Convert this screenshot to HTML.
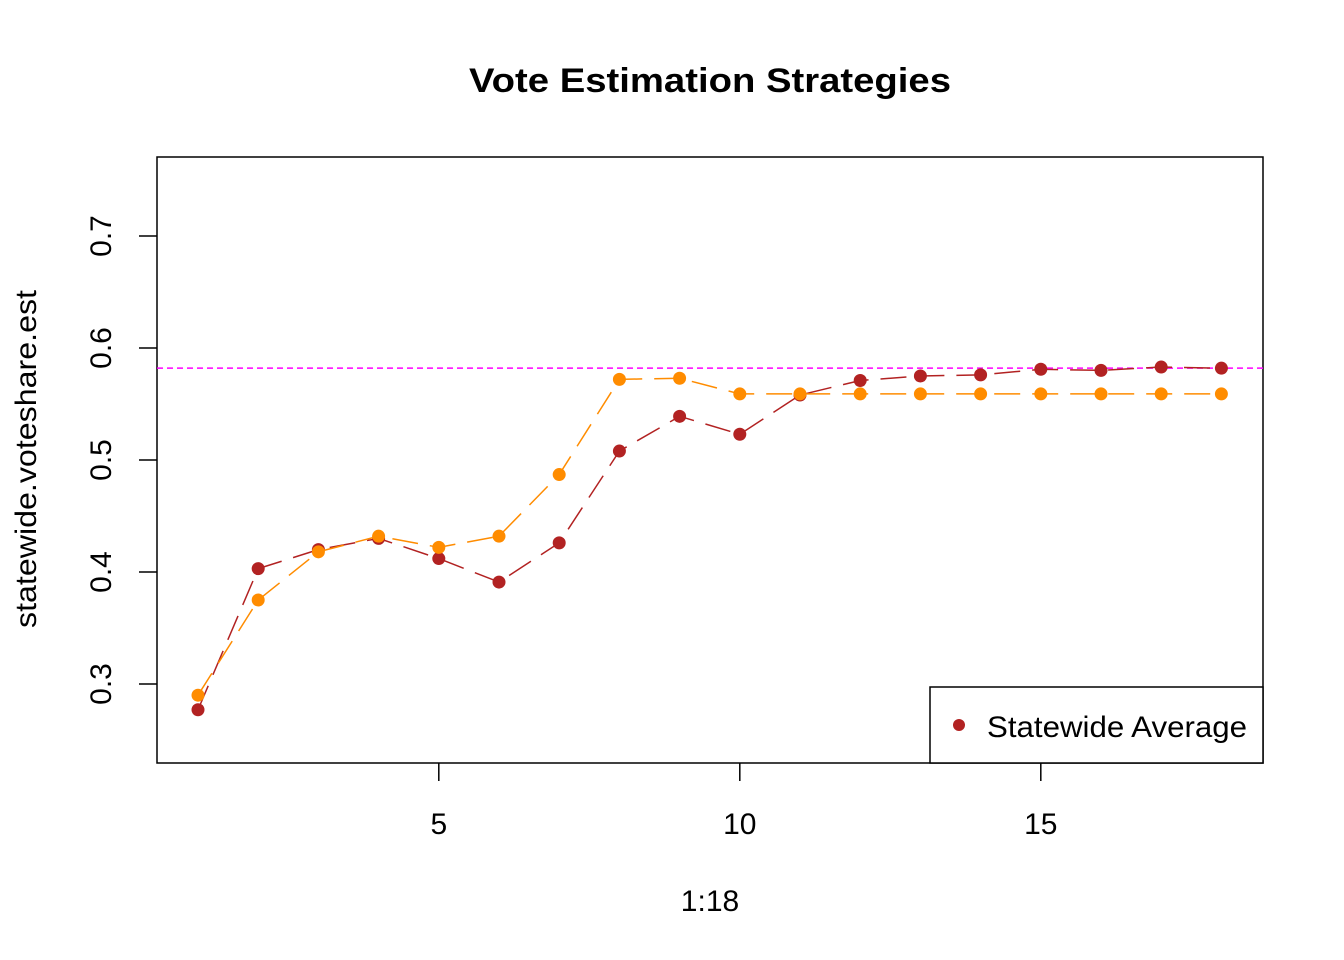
<!DOCTYPE html>
<html><head><meta charset="utf-8"><style>body{margin:0;background:#fff}svg{display:block;font-family:"Liberation Sans",Arial,sans-serif}</style></head>
<body>
<svg id="chart" width="1344" height="960">
<text x="710" y="92" text-anchor="middle" font-size="34" font-weight="bold" textLength="482" lengthAdjust="spacingAndGlyphs">Vote Estimation Strategies</text>
<rect x="157" y="157" width="1106" height="606" fill="none" stroke="#000" stroke-width="1.5"/>
<g id="xaxis"></g>
<g id="yaxis"></g>
<text x="710" y="911" text-anchor="middle" font-size="30">1:18</text>
<text transform="translate(36,459) rotate(-90)" text-anchor="middle" font-size="30" textLength="338" lengthAdjust="spacingAndGlyphs">statewide.voteshare.est</text>
<g id="marks"></g>
<g>
<rect x="930" y="687" width="333" height="76" fill="#fff" stroke="#000" stroke-width="1.5"/>
<circle cx="959" cy="725" r="6" fill="#b22222"/>
<text x="987" y="737" font-size="30" textLength="260" lengthAdjust="spacingAndGlyphs">Statewide Average</text>
</g>
</svg>
<script>
const xs = [1,2,3,4,5,6,7,8,9,10,11,12,13,14,15,16,17,18];
const avgSeries = [0.277,0.403,0.420,0.430,0.412,0.391,0.426,0.508,0.539,0.523,0.558,0.571,0.575,0.576,0.581,0.580,0.583,0.582];
const altSeries = [0.290,0.375,0.418,0.432,0.422,0.432,0.487,0.572,0.573,0.559,0.559,0.559,0.559,0.559,0.559,0.559,0.559,0.559];
const hline = 0.582;
const xTicks = [5,10,15];
const yTicks = [0.3,0.4,0.5,0.6,0.7];
const NS="http://www.w3.org/2000/svg";
const X=v=>198+(v-1)*60.2;
const Y=v=>684-(v-0.3)*1120;
function mk(t,a,p){const e=document.createElementNS(NS,t);for(const k in a)e.setAttribute(k,a[k]);p.appendChild(e);return e;}
const xa=document.getElementById('xaxis'),ya=document.getElementById('yaxis'),m=document.getElementById('marks');
xTicks.forEach(t=>{const l=mk('line',{x1:X(t),x2:X(t),y1:763,y2:781,stroke:'#000','stroke-width':1.5},xa);


const tx=mk('text',{x:X(t),y:834,'text-anchor':'middle','font-size':30},xa);tx.textContent=t;

});
yTicks.forEach(t=>{const l=mk('line',{x1:139,x2:157,y1:Y(t),y2:Y(t),stroke:'#000','stroke-width':1.5},ya);


const tx=mk('text',{transform:`translate(111,${Y(t)}) rotate(-90)`,'text-anchor':'middle','font-size':30},ya);tx.textContent=t.toFixed(1);

});
const h=mk('line',{x1:157,x2:1263,y1:Y(hline),y2:Y(hline),stroke:'#ff00ff','stroke-width':1.5,'stroke-dasharray':'6 4'},m);


function series(vals,col,name){
const p=mk('polyline',{points:vals.map((v,i)=>X(xs[i])+','+Y(v)).join(' '),fill:'none',stroke:col,'stroke-width':1.5,'stroke-dasharray':'26 12'},m);


vals.forEach((v,i)=>{const c=mk('circle',{cx:X(xs[i]),cy:Y(v),r:6.5,fill:col},m);

});
}
series(avgSeries,'#b22222','statewide-average');
series(altSeries,'#ff8c00','alternative-estimate');
</script>
</body></html>
